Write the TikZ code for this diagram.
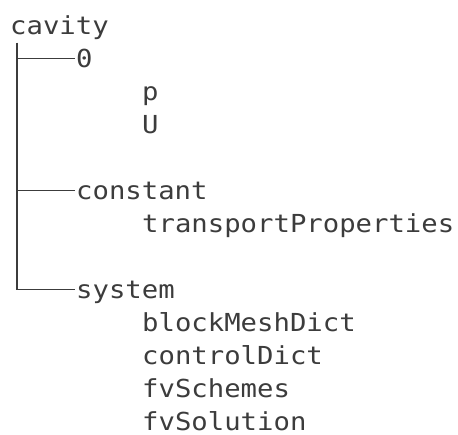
\documentclass[tikz,border=0pt]{standalone}
\usepackage{fontspec}
\setmonofont[FakeStretch=1.1]{DejaVu Sans Mono}
\definecolor{ink}{RGB}{60,60,60}
\tikzset{
  entry/.style={anchor=base west, inner sep=0pt, font=\ttfamily\fontsize{24.8}{24.8}\selectfont, text=ink},
  branch/.style={draw=ink, line width=1.1pt}
}
\begin{document}
\begin{tikzpicture}[x=1pt,y=1pt]
  \useasboundingbox (0,0) rectangle (458,435);
  % row baselines, counted from the top of the listing
  \def\rowy#1{435-34.5-33.0*#1}
  \node[entry] (cavity)    at (10,{\rowy{0}})  {cavity};
  \node[entry] (zero)      at (76,{\rowy{1}})  {0};
  \node[entry] (p)         at (142,{\rowy{2}}) {p};
  \node[entry] (U)         at (142,{\rowy{3}}) {U};
  \node[entry] (constant)  at (76,{\rowy{5}})  {constant};
  \node[entry] (transport) at (142,{\rowy{6}}) {transportProperties};
  \node[entry] (system)    at (76,{\rowy{8}})  {system};
  \node[entry] (block)     at (142,{\rowy{9}}) {blockMeshDict};
  \node[entry] (control)   at (142,{\rowy{10}}) {controlDict};
  \node[entry] (schemes)   at (142,{\rowy{11}}) {fvSchemes};
  \node[entry] (solution)  at (142,{\rowy{12}}) {fvSolution};
  % tree trunk and its branches
  \coordinate (trunk) at (17,392);
  \draw[branch] (trunk) |- ([xshift=-1.5pt,yshift=9pt]zero.base west);
  \draw[branch] (trunk) |- ([xshift=-1.5pt,yshift=9pt]constant.base west);
  \draw[branch] (trunk) |- ([xshift=-1.5pt,yshift=9pt]system.base west);
\end{tikzpicture}
\end{document}
